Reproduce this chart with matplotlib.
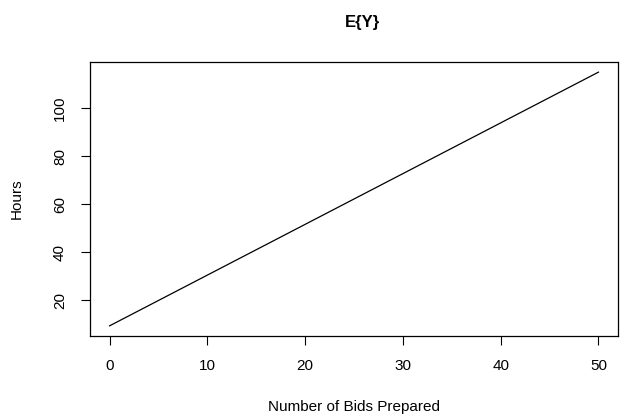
import matplotlib
matplotlib.use("Agg")
import matplotlib.pyplot as plt

# regression line E{Y}
bids = [0, 50]
hours = [9.3, 115.0]
xticks = [0, 10, 20, 30, 40, 50]
yticks = [20, 40, 60, 80, 100]

plt.rcParams['font.family'] = ['Liberation Sans', 'DejaVu Sans']

fig = plt.figure(figsize=(6.27, 4.19), dpi=100)
ax = fig.add_axes([90 / 627, (419 - 336) / 419, (618 - 90) / 627, (336 - 62) / 419])

ax.plot(bids, hours, color="black", linewidth=0.9)

# R-style 4% padding of the data range
xr = bids[-1] - bids[0]
yr = hours[-1] - hours[0]
ax.set_xlim(bids[0] - 0.04 * xr, bids[-1] + 0.04 * xr)
ax.set_ylim(hours[0] - 0.04 * yr, hours[-1] + 0.04 * yr)

ax.set_xticks(xticks)
ax.set_yticks(yticks)
ax.set_yticklabels([str(t) for t in yticks], rotation=90, va="center")
ax.tick_params(direction="out", length=6.5, width=0.8, labelsize=11, pad=10, color="black")
for s in ax.spines.values():
    s.set_linewidth(0.9)

ax.set_xlabel("Number of Bids Prepared", fontsize=11)
ax.set_ylabel("Hours", fontsize=11)
ax.xaxis.set_label_coords(0.5, -(407 - 336) / 274, transform=ax.transAxes)
ax.yaxis.set_label_coords(-(90 - 17) / 528, 0.5, transform=ax.transAxes)
ax.xaxis.label.set_va("center")
ax.yaxis.label.set_va("center")

fig.text(362 / 627, 1 - 22 / 419, "E{Y}", ha="center", va="center",
         fontsize=12, fontweight="bold")

fig.savefig("out.png", dpi=100)
